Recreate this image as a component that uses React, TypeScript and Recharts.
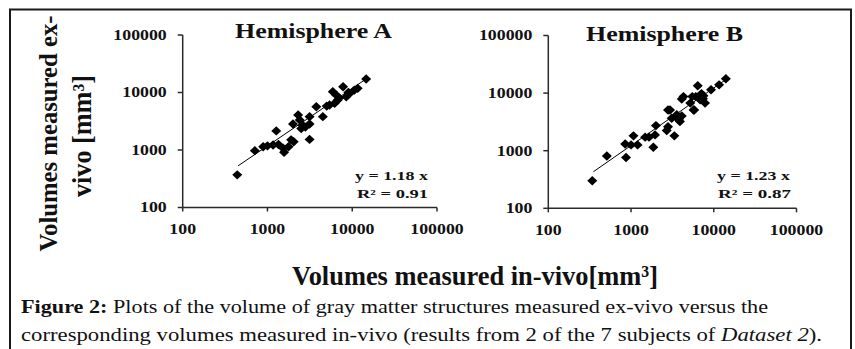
import React from 'react';
import { ScatterChart, Scatter, XAxis, YAxis } from 'recharts';

// ---------- data ----------
const axisTicks = [100, 1000, 10000, 100000];

// Hemisphere A: volumes in-vivo (x) and ex-vivo (y), mm^3
const hemiAInVivo = [440, 710, 890, 1000, 1165, 1270, 1350, 1530, 1570, 1770, 1900, 2040, 2000, 2300, 2400, 2500, 2600, 2800, 3140, 3140, 3140, 3770, 4500, 5000, 5400, 5900, 6200, 6500, 6750, 7000, 7800, 8500, 9000, 9300, 10600, 11600, 14600];
const hemiAExVivo = [370, 975, 1140, 1180, 1220, 2150, 1250, 1070, 910, 1140, 1500, 1390, 2840, 4050, 3330, 2370, 2700, 2500, 1530, 2840, 3800, 5660, 3800, 5800, 6080, 10300, 6500, 9000, 7400, 8000, 12600, 8400, 10000, 9600, 11000, 11800, 17200];

// Hemisphere B
const hemiBInVivo = [340, 510, 870, 850, 1000, 1070, 1200, 1480, 1650, 1860, 1950, 2000, 2700, 2800, 2800, 2960, 3100, 3340, 3570, 3800, 3900, 4100, 4100, 4300, 5200, 5500, 5700, 5800, 6060, 6400, 6830, 7100, 7400, 7500, 7850, 9270, 11600, 14000];
const hemiBExVivo = [300, 810, 760, 1310, 1260, 1810, 1260, 1720, 1720, 1150, 1880, 2730, 2240, 2600, 5100, 5100, 3660, 1810, 4200, 3400, 3200, 4000, 7870, 8700, 6700, 8700, 5100, 5100, 8700, 13400, 7640, 9800, 8000, 9000, 6700, 11400, 13900, 17700];

// fitted lines (endpoints)
const trendAInVivo = [450, 15000];
const trendAExVivo = [530, 17700];
const trendBInVivo = [350, 14000];
const trendBExVivo = [430, 17200];

const zip = (xs: number[], ys: number[]) => xs.map((x, i) => ({ x, y: ys[i] }));
const dataA = zip(hemiAInVivo, hemiAExVivo);
const dataB = zip(hemiBInVivo, hemiBExVivo);
const lineA = zip(trendAInVivo, trendAExVivo);
const lineB = zip(trendBInVivo, trendBExVivo);

// ---------- styling helpers ----------
const SERIF = '"Liberation Serif", "Times New Roman", Times, serif';
const INK = '#111';
const AXIS = '#2a2a2a';

function YTick(props: any) {
  const { x, y, payload } = props;
  return (
    <g transform={`translate(${x},${y}) scale(1.27,1)`}>
      <text x={0} y={0} dy={4.8} textAnchor="end" fontFamily={SERIF} fontWeight="bold" fontSize={14} fill={INK}>
        {String(payload.value)}
      </text>
    </g>
  );
}

function XTick(props: any) {
  const { x, y, payload } = props;
  return (
    <g transform={`translate(${x},${y}) scale(1.27,1)`}>
      <text x={0} y={0} dy={20.7} textAnchor="middle" fontFamily={SERIF} fontWeight="bold" fontSize={14} fill={INK}>
        {String(payload.value)}
      </text>
    </g>
  );
}

function Diamond(props: any) {
  const { cx, cy } = props;
  if (cx == null || cy == null) return <g />;
  const rx = 5;
  const ry = 4.7;
  return <path d={`M${cx},${cy - ry}L${cx + rx},${cy}L${cx},${cy + ry}L${cx - rx},${cy}Z`} fill="#000" />;
}

function NoDot() {
  return <g />;
}

function Panel(props: { data: any[]; line: any[]; width: number; height: number; yAxisWidth: number; margin: any }) {
  const { data, line, width, height, yAxisWidth, margin } = props;
  return (
    <ScatterChart width={width} height={height} margin={margin}>
      <XAxis
        type="number"
        dataKey="x"
        scale="log"
        domain={[100, 100000]}
        ticks={axisTicks}
        interval={0}
        allowDataOverflow
        height={30}
        tickSize={4}
        tickMargin={2}
        axisLine={{ stroke: AXIS, strokeWidth: 1.5 }}
        tickLine={{ stroke: AXIS, strokeWidth: 1.5 }}
        tick={(p: any) => <XTick {...p} />}
      />
      <YAxis
        type="number"
        dataKey="y"
        scale="log"
        domain={[100, 100000]}
        ticks={axisTicks}
        interval={0}
        allowDataOverflow
        width={yAxisWidth}
        tickSize={5}
        tickMargin={11}
        axisLine={{ stroke: AXIS, strokeWidth: 1.5 }}
        tickLine={{ stroke: AXIS, strokeWidth: 1.5 }}
        tick={(p: any) => <YTick {...p} />}
      />
      <Scatter data={line} line={{ stroke: '#000', strokeWidth: 1 }} shape={NoDot} isAnimationActive={false} />
      <Scatter data={data} shape={Diamond} isAnimationActive={false} />
    </ScatterChart>
  );
}

export default function App() {
  return (
    <div style={{ position: 'absolute', left: 0, top: 0, width: 855, height: 349, background: '#fff', overflow: 'hidden' }}>
      <div style={{ position: 'absolute', left: 0, top: 0 }}>
        <Panel
          data={dataA}
          line={lineA}
          width={480}
          height={245}
          yAxisWidth={182.7}
          margin={{ top: 35, right: 43, bottom: 7.5, left: 0 }}
        />
      </div>
      <div style={{ position: 'absolute', left: 400, top: 0 }}>
        <Panel
          data={dataB}
          line={lineB}
          width={455}
          height={245}
          yAxisWidth={148.3}
          margin={{ top: 35.5, right: 58.5, bottom: 6.7, left: 0 }}
        />
      </div>
      <svg width={855} height={349} style={{ position: 'absolute', left: 0, top: 0, pointerEvents: 'none' }}>
        <rect x={10} y={9.5} width={841} height={360} fill="none" stroke="#1a1a1a" strokeWidth={2} />

        <text x={235} y={37.5} fontFamily={SERIF} fontWeight="bold" fontSize={21} fill={INK} textLength={157} lengthAdjust="spacingAndGlyphs">
          Hemisphere A
        </text>
        <text x={586} y={41} fontFamily={SERIF} fontWeight="bold" fontSize={21} fill={INK} textLength={157} lengthAdjust="spacingAndGlyphs">
          Hemisphere B
        </text>

        <text x={355} y={180} fontFamily={SERIF} fontWeight="bold" fontSize={13} fill={INK} textLength={73} lengthAdjust="spacingAndGlyphs">
          y = 1.18 x
        </text>
        <text x={357} y={198.3} fontFamily={SERIF} fontWeight="bold" fontSize={13} fill={INK} textLength={71} lengthAdjust="spacingAndGlyphs">
          R² = 0.91
        </text>
        <text x={717} y={180} fontFamily={SERIF} fontWeight="bold" fontSize={13} fill={INK} textLength={73} lengthAdjust="spacingAndGlyphs">
          y = 1.23 x
        </text>
        <text x={718} y={198} fontFamily={SERIF} fontWeight="bold" fontSize={13} fill={INK} textLength={73} lengthAdjust="spacingAndGlyphs">
          R² = 0.87
        </text>

        <text transform="translate(57,133.5) rotate(-90)" textAnchor="middle" fontFamily={SERIF} fontWeight="bold" fontSize={26} fill={INK} textLength={236} lengthAdjust="spacingAndGlyphs">
          Volumes measured ex-
        </text>
        <text transform="translate(91,136) rotate(-90)" textAnchor="middle" fontFamily={SERIF} fontWeight="bold" fontSize={27} fill={INK} textLength={122} lengthAdjust="spacingAndGlyphs">
          vivo [mm³]
        </text>

        <text x={292} y={285} fontFamily={SERIF} fontWeight="bold" fontSize={28} fill={INK} textLength={366} lengthAdjust="spacingAndGlyphs">
          Volumes measured in-vivo[mm³]
        </text>

        <text x={21} y={313} fontFamily={SERIF} fontSize={19} fill={INK} textLength={747} lengthAdjust="spacingAndGlyphs">
          <tspan fontWeight="bold">Figure 2:</tspan>
          {' Plots of the volume of gray matter structures measured ex-vivo versus the'}
        </text>
        <text x={21} y={341} fontFamily={SERIF} fontSize={19} fill={INK} textLength={801} lengthAdjust="spacingAndGlyphs">
          {'corresponding volumes measured in-vivo (results from 2 of the 7 subjects of '}
          <tspan fontStyle="italic">Dataset 2</tspan>
          {').'}
        </text>
      </svg>
    </div>
  );
}
